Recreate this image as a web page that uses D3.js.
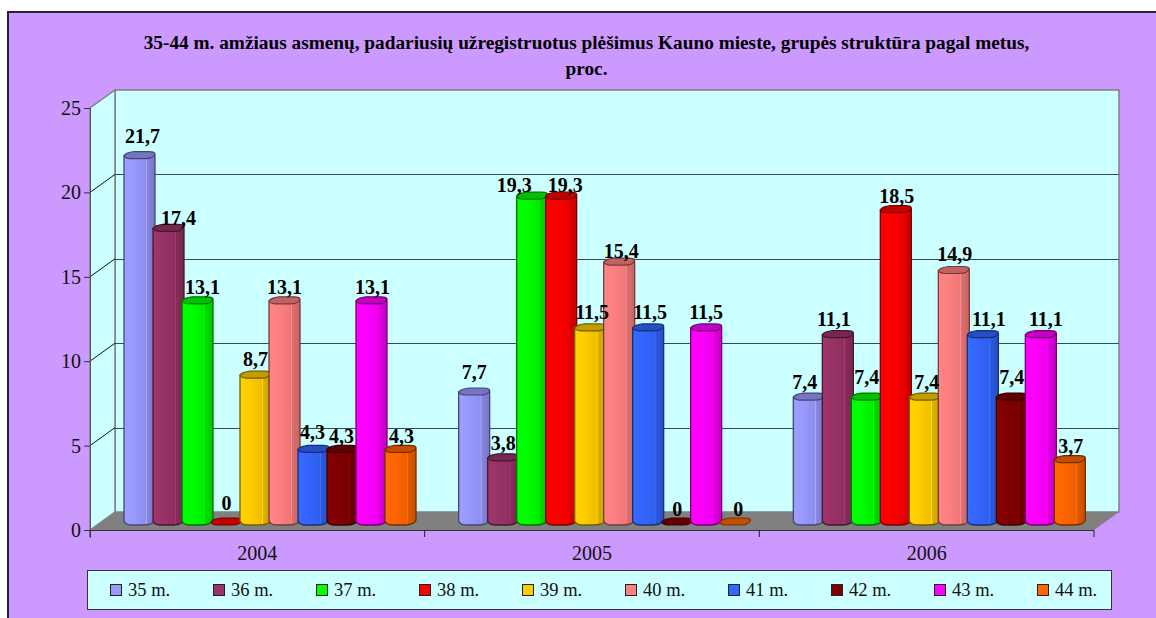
<!DOCTYPE html>
<html><head><meta charset="utf-8">
<script src="https://cdnjs.cloudflare.com/ajax/libs/d3/7.8.5/d3.min.js"></script>
<style>html,body{margin:0;padding:0;background:#fff}svg{display:block}text{font-family:"Liberation Serif",serif}</style>
</head><body><div id="c"></div>
<script>
const titleLines=["35-44 m. amžiaus asmenų, padariusių užregistruotus plėšimus Kauno mieste, grupės struktūra pagal metus,","proc."];
const years=["2004","2005","2006"];
const ages=["35 m.","36 m.","37 m.","38 m.","39 m.","40 m.","41 m.","42 m.","43 m.","44 m."];
const colors=["#9999FF","#993366","#00FF00","#FF0000","#FFCC00","#FF8080","#3366FF","#800000","#FF00FF","#FF6600"];
const v2004=[21.7,17.4,13.1,0,8.7,13.1,4.3,4.3,13.1,4.3];
const v2005=[7.7,3.8,19.3,19.3,11.5,15.4,11.5,0,11.5,0];
const v2006=[7.4,11.1,7.4,18.5,7.4,14.9,11.1,7.4,11.1,3.7];
const yTicks=[0,5,10,15,20,25];
// label nudges relative to bar centre / bar top, per year
const dx2004=[3,10,5,0,0,0,-1,-1,1,1], dy2004=[-16,-6,-10,-15,-12,-10,-13,-9,-10,-9];
const dx2005=[0,0,-18,4,2,2,2,0,0,3], dy2005=[-16,-11,-7,-7,-12,-7,-12,-9,-12,-9];
const dx2006=[-4,-4,0,1,2,1,6,0,5,1], dy2006=[-11,-12,-16,-10,-11,-12,-12,-16,-12,-10];

const W=1156,H=618;
const svg=d3.select("#c").append("svg").attr("width",W).attr("height",H);
const defs=svg.append("defs");
const fL=90,fR=1094,fB=530,fT=108,dX=25,dY=-18;
const y=d3.scaleLinear().domain([0,25]).range([fB,fT]);
const x0=d3.scaleBand().domain(years).range([fL,fR]);
const x1=d3.scaleBand().domain(ages).range([34,34+29*10]);
const barW=31,bDY=-5;

svg.append("rect").attr("x",8).attr("y",12).attr("width",W).attr("height",H).attr("fill","#CC99FF");
svg.append("path").attr("d",`M8,${H}V12H${W}`).attr("fill","none").attr("stroke","#26203a").attr("stroke-width",2);

// walls
const wall=svg.append("g");
wall.append("rect").attr("x",fL+dX).attr("y",fT+dY).attr("width",fR-fL).attr("height",fB-fT).attr("fill","#CCFFFF").attr("stroke","#808080").attr("stroke-width",1.5);
wall.append("path").attr("d",`M${fL},${fT}L${fL+dX},${fT+dY}V${fB+dY}L${fL},${fB}Z`).attr("fill","#CCFFFF").attr("stroke","#808080").attr("stroke-width",1.5);
wall.append("path").attr("d",`M${fL},${fB}L${fL+dX},${fB+dY}H${fR+dX}L${fR},${fB}Z`).attr("fill","#808080");
const grid=[5,10,15,20];
wall.selectAll("line.g").data(grid).join("line").attr("class","g")
 .attr("x1",fL+dX).attr("x2",fR+dX).attr("y1",d=>Math.round(y(d)+dY)+.5).attr("y2",d=>Math.round(y(d)+dY)+.5).attr("stroke","#3a4a4a");
wall.selectAll("line.s").data(grid).join("line").attr("class","s")
 .attr("x1",fL).attr("x2",fL+dX).attr("y1",d=>y(d)).attr("y2",d=>y(d)+dY).attr("stroke","#111");

// axes
const ya=svg.append("g").attr("transform",`translate(${fL},0)`).call(d3.axisLeft(y).tickValues(yTicks).tickSize(6).tickPadding(3));
ya.select(".domain").attr("stroke","#555").attr("d",`M0.5,${fT}V${fB+8}`);
ya.selectAll("line").attr("stroke","#333");
ya.selectAll("text").attr("font-size",20).attr("fill","#111").attr("font-family","Liberation Serif");
const xa=svg.append("g").attr("transform",`translate(0,${fB})`).call(d3.axisBottom(x0).tickSize(0).tickPadding(16));
xa.select(".domain").attr("stroke","#333").attr("d",`M${fL},0.5H${fR}`);
xa.selectAll("text").attr("font-size",20).attr("fill","#111").attr("font-family","Liberation Serif");
svg.append("g").selectAll("line").data(years.concat("end")).join("line")
 .attr("x1",(d,i)=>fL+i*x0.step()).attr("x2",(d,i)=>fL+i*x0.step()).attr("y1",fB).attr("y2",fB+7).attr("stroke","#222");

// gradients
function grad(id,c){
 const k=d3.color(c);
 const g=defs.append("linearGradient").attr("id",id);
 [[0,k.brighter(.1)],[.3,k],[.7,k.darker(.2)],[.72,k.brighter(.4)],[.75,k.darker(.4)],[1,k.darker(.7)]].forEach(([o,col])=>g.append("stop").attr("offset",o).attr("stop-color",col));
}
colors.forEach((c,i)=>grad("g"+i,c));

const series=[v2004,v2005,v2006], dxs=[dx2004,dx2005,dx2006], dys=[dy2004,dy2005,dy2006];
const bars=svg.append("g"), labels=svg.append("g");
series.forEach((vals,yi)=>{
 vals.forEach((v,i)=>{
  const bx=x0(years[yi])+x1(ages[i]), r=bx+barW, base=y(0)+bDY, top=y(v)+bDY-(y(0)-fB);
  const g=bars.append("g").attr("stroke-linejoin","round");
  if(v>0) g.append("path")
   .attr("d",`M${bx},${top-3}V${base-4}Q${bx+1},${base-.5} ${bx+7},${base}H${bx+20}Q${r-1},${base-.5} ${r},${base-5}V${top-4}Z`)
   .attr("fill",`url(#g${i})`).attr("stroke",d3.color(colors[i]).darker(2.2)).attr("stroke-width",1.3);
  const tf=d3.color(colors[i]).darker(.75);
  g.append("path")
   .attr("d",`M${bx},${top-3}Q${bx+1},${top-.5} ${bx+6},${top}H${bx+21}Q${r-1},${top} ${r},${top-5}Q${r-1},${top-7} ${r-6},${top-7}H${bx+10}Q${bx+2},${top-6} ${bx},${top-3}Z`)
   .attr("fill",tf).attr("stroke",d3.color(colors[i]).darker(2.2)).attr("stroke-width",1.2);
  labels.append("text").attr("x",bx+barW/2+dxs[yi][i]).attr("y",top+dys[yi][i]).attr("text-anchor","middle")
   .attr("font-size",20).attr("font-weight","bold").attr("fill","#000").text(String(v).replace(".",","));
 });
});

// title
svg.append("g").selectAll("text").data(titleLines).join("text")
 .attr("x",586.5).attr("y",(d,i)=>49+i*26).attr("text-anchor","middle").attr("font-size",19.3).attr("font-weight","bold").attr("fill","#000").text(d=>d);

// legend
const lg=svg.append("g");
lg.append("rect").attr("x",87.5).attr("y",570.5).attr("width",1024).attr("height",39).attr("fill","#CCFFFF").attr("stroke","#333").attr("stroke-width",1);
const lx=d3.scalePoint().domain(ages).range([110,110+103*9]);
const it=lg.selectAll("g").data(ages).join("g").attr("transform",d=>`translate(${lx(d)},0)`);
it.append("rect").attr("x",.5).attr("y",584.5).attr("width",11).attr("height",11).attr("fill",(d,i)=>colors[i]).attr("stroke","#222");
it.append("text").attr("x",18).attr("y",596).attr("font-size",18.5).attr("fill","#111").text(d=>d);
</script></body></html>
